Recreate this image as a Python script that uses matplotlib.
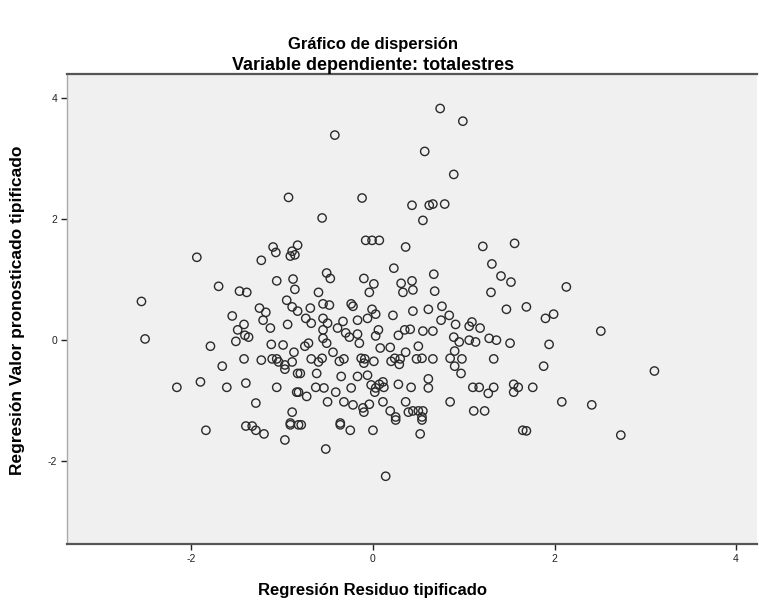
import matplotlib
matplotlib.use("Agg")
import matplotlib.pyplot as plt

plt.rcParams['font.family'] = ['Liberation Sans', 'DejaVu Sans']

# Regresión Residuo tipificado (x) and Regresión Valor pronosticado tipificado (y)
residuo = [
    0.74, 0.99, -0.42, 0.57, 0.89,
    -0.93, -0.83, -1.10, -1.07, -0.89, -0.91, -0.86, -1.23, -1.94, -1.06, -0.88, -0.86,
    -1.70, -1.47, -1.39, -0.95, -0.89, -2.55, -1.25, -1.18,
    -0.12, 0.43, 0.62, 0.66, 0.79, -0.56, 0.55, -0.08, -0.01, 0.07, 0.36, 1.21, 1.56,
    1.31, 1.41, 1.52, 1.30, 0.23, -0.51, -0.47, -0.10, 0.01, -0.04, 0.31, 0.43, 0.33, 0.44,
    0.67, 0.68, -0.60, -0.55, -0.48, -0.24, -0.22, -0.69, -0.01, 0.44, 0.61, 0.76, 1.47, 1.69,
    2.13, 1.99, 1.90, 2.51, 1.94, 1.88, 3.10, 1.76, 2.08, 2.41, 2.73, 1.69,
    -0.79, -0.36, -0.25, 0.00, 0.52, 1.65, -0.52, 0.14, 0.25, 0.54,
    -1.84, -1.40, -1.33, -1.29, -1.20, -0.97, -0.91, -0.82,
    -2.51, -1.55, -1.42, -1.49, -1.41, -1.37, -1.51, -1.21, -1.13, -0.94, -0.83,
    -1.79, -1.12, -0.99, -0.87, -1.42, -1.23, -1.11, -1.06, -1.04, -0.97, -0.97, -0.89,
    -1.66, -0.83, -2.16, -1.90, -1.61, -1.40, -1.06, -0.84, -1.29, -0.89, -0.91,
    0.22, -0.74, -0.68, -0.55, -0.50, -0.33, -0.39, -0.17, -0.06, 0.03, 0.06, 0.03,
    -0.30, -0.26, -0.17, -0.55, -0.55, -0.51, -0.71, -0.75, -0.15, -0.44,
    0.28, 0.35, 0.41, 0.55, 0.66, 0.75, 0.84, 0.91, 1.06, 1.09, 1.18, 0.89, 0.95, 1.06,
    1.13, 1.28, 1.36, 1.51, 1.33, 0.08, 0.19, 0.36, 0.50,
    -0.68, -0.60, -0.56, -0.37, -0.32, -0.13, -0.09, -0.10, 0.01, 0.20, 0.24, 0.29, 0.30,
    0.48, 0.54, 0.66, 0.85, 0.90, 0.98, 0.90, 0.97,
    -0.80, -0.62, -0.35, -0.17, -0.06, -0.02, 0.03, 0.07, 0.11, 0.12, 0.02, 0.28, 0.42,
    0.61, 0.61, -0.63, -0.54, -0.82, -0.73, -0.41, -0.24,
    -0.50, -0.32, -0.22, -0.11, -0.10, -0.04, 0.11, 0.19, 0.25, 0.36, 0.39, 0.44, 0.50,
    0.55, 0.54, 0.85, 1.10, 1.17, 1.33, 1.27, 1.55, 1.60, 1.55, 1.11, 1.23, -0.36,
]
pronosticado = [
    3.83, 3.62, 3.39, 3.12, 2.74,
    2.36, 1.57, 1.54, 1.45, 1.47, 1.39, 1.41, 1.32, 1.37, 0.98, 1.01, 0.84,
    0.89, 0.81, 0.79, 0.66, 0.55, 0.64, 0.53, 0.46,
    2.35, 2.23, 2.23, 2.25, 2.25, 2.02, 1.98, 1.65, 1.65, 1.65, 1.54, 1.55, 1.60,
    1.26, 1.06, 0.96, 0.79, 1.19, 1.11, 1.02, 1.02, 0.93, 0.79, 0.94, 0.98, 0.79, 0.83,
    1.09, 0.81, 0.79, 0.60, 0.58, 0.60, 0.56, 0.53, 0.51, 0.48, 0.51, 0.56, 0.51, 0.55,
    0.88, 0.43, 0.36, 0.15, -0.07, -0.43, -0.51, -0.78, -1.02, -1.07, -1.57, -1.50,
    -1.40, -1.40, -1.49, -1.49, -1.55, -1.49, -1.80, -2.25, -1.32, -1.32,
    -1.49, -1.42, -1.42, -1.49, -1.55, -1.65, -1.40, -1.40,
    0.02, 0.40, 0.26, 0.17, 0.08, 0.05, -0.02, 0.33, 0.20, 0.26, 0.48,
    -0.10, -0.07, -0.08, -0.20, -0.31, -0.33, -0.31, -0.31, -0.36, -0.41, -0.48, -0.36,
    -0.43, -0.55, -0.78, -0.69, -0.78, -0.71, -0.78, -0.86, -1.04, -1.19, -1.37,
    0.41, 0.36, 0.28, 0.36, 0.28, 0.31, 0.20, 0.33, 0.36, 0.43, 0.17, 0.07,
    0.12, 0.05, 0.10, 0.17, 0.03, -0.05, -0.05, -0.10, -0.05, -0.20,
    0.08, 0.17, 0.18, 0.15, 0.15, 0.33, 0.41, 0.26, 0.23, 0.30, 0.20, 0.05, -0.03, 0.00,
    -0.03, 0.03, 0.00, -0.05, -0.31, -0.13, -0.12, -0.20, -0.10,
    -0.31, -0.36, -0.30, -0.35, -0.31, -0.30, -0.31, -0.38, -0.35, -0.35, -0.30, -0.40, -0.31,
    -0.31, -0.30, -0.31, -0.30, -0.18, -0.31, -0.43, -0.55,
    -0.55, -0.55, -0.60, -0.60, -0.58, -0.74, -0.79, -0.73, -0.69, -0.78, -0.86, -0.73, -0.78,
    -0.64, -0.79, -0.78, -0.79, -0.86, -0.93, -0.86, -0.79,
    -1.02, -1.02, -1.07, -1.12, -1.19, -1.06, -1.02, -1.17, -1.27, -1.02, -1.19, -1.17, -1.17,
    -1.17, -1.27, -1.02, -0.78, -0.78, -0.78, -0.88, -0.73, -0.78, -0.86, -1.17, -1.17, -1.37,
]

x_ticks = [-2, 0, 2, 4]
y_ticks = [-2, 0, 2, 4]

fig = plt.figure(figsize=(7.59, 6.0), dpi=100)
ax = fig.add_axes([67/759, 1 - 544/600, (757 - 67)/759, (544 - 74)/600])
ax.set_facecolor('#F0F0F0')

ax.scatter(residuo, pronosticado, s=36, facecolors='none', edgecolors='#2a2a2a', linewidths=1.0)

ax.set_xlim(-3.37, 4.23)
ax.set_ylim(-3.37, 4.40)
ax.set_xticks(x_ticks)
ax.set_yticks(y_ticks)
ax.set_xticklabels([str(t) for t in x_ticks])
ax.set_yticklabels([str(t) for t in y_ticks])
ax.tick_params(axis='both', labelsize=7.5, length=4, width=1, colors='#222222', direction='out', pad=3)

for side in ['top', 'bottom']:
    ax.spines[side].set_color('#555555')
    ax.spines[side].set_linewidth(1.6)
ax.spines['left'].set_color('#aaaaaa')
ax.spines['left'].set_linewidth(1.0)
ax.spines['right'].set_visible(False)

fig.text(373/759, 1 - 45/600, 'Gráfico de dispersión', ha='center', va='center', fontsize=12, fontweight='bold')
fig.text(373/759, 1 - 66/600, 'Variable dependiente: totalestres', ha='center', va='center', fontsize=13, fontweight='bold')
fig.text(373/759, 1 - 590/600, 'Regresión Residuo tipificado', ha='center', va='center', fontsize=12, fontweight='bold')
fig.text(18/759, 1 - 310/600, 'Regresión Valor pronosticado tipificado', ha='center', va='center', rotation=90, fontsize=12.5, fontweight='bold')

fig.savefig('out.png', dpi=100, facecolor='white')
